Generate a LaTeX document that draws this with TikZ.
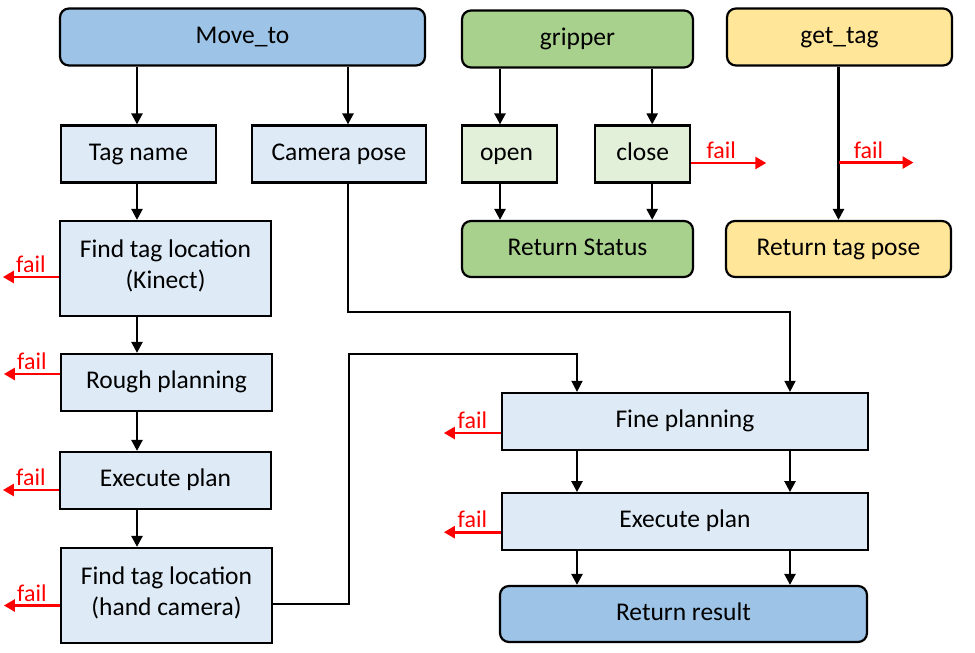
\documentclass[tikz,border=0pt]{standalone}
\usepackage{fontspec}
\setmainfont{Carlito}
\usetikzlibrary{arrows.meta,positioning}

\definecolor{headblue}{HTML}{9DC3E6}
\definecolor{paleblue}{HTML}{DEEBF7}
\definecolor{headgreen}{HTML}{A9D18E}
\definecolor{palegreen}{HTML}{E2F0D9}
\definecolor{headyellow}{HTML}{FFE699}

\begin{document}
\begin{tikzpicture}[x=1pt,y=-1pt,
        box/.style={draw, line width=2.2pt, minimum height=57pt, inner sep=0pt,
                align=center, font=\fontsize{25.5}{31}\selectfont,
                execute at begin node=\strut, execute at end node=\strut},
        stage/.style={box, fill=paleblue},
        head/.style={box, rounded corners=9pt},
        post/.style={-{Triangle[width=11pt,length=11pt]}, line width=2.4pt},
        route/.style={-{Triangle[width=11pt,length=11pt]}, line width=1.6pt},
        failarrow/.style={-{Triangle[width=12pt,length=11pt]}, line width=2.6pt, red},
        faillabel/.style={red, above, inner sep=3pt, font=\fontsize{24}{28}\selectfont}]
        \useasboundingbox (0,0) rectangle (975,653);

        % Move_to
        \node[head, fill=headblue, minimum width=365pt] (movet) at (242.5,37) {Move\_to};
        \node[stage, minimum width=155pt] (tagname) at (138.5,154) {Tag name};
        \node[stage, minimum width=174pt] (camera) at (339,154) {Camera pose};
        \node[stage, minimum width=211pt, minimum height=95pt] (kinect) at (165.5,268.5) {Find tag location\\(Kinect)};
        \node[stage, minimum width=211pt] (rough) at (166.5,382.5) {Rough planning};
        \node[stage, minimum width=211pt] (execl) at (165.5,480.5) {Execute plan};
        \node[stage, minimum width=211pt, minimum height=95pt] (hand) at (166.5,595.5) {Find tag location\\(hand camera)};
        \node[stage, minimum width=366pt] (fine) at (685,421.5) {Fine planning};
        \node[stage, minimum width=366pt] (execr) [below=41pt of fine] {Execute plan};
        \node[head, fill=headblue, minimum width=367pt, minimum height=56pt] (result) at (683.5,614) {Return result};

        % gripper
        \node[head, fill=headgreen, minimum width=231pt] (gripper) at (577.5,39) {gripper};
        \node[box, fill=palegreen, minimum width=95pt] (open) at (509.5,154) {open\hspace{6pt}};
        \node[box, fill=palegreen, minimum width=95pt] (close) [right=36pt of open] {close};
        \node[head, fill=headgreen, minimum width=231pt, minimum height=56pt] (status) at (577.5,249) {Return Status};

        % get_tag
        \node[head, fill=headyellow, minimum width=225pt] (gettag) at (839.5,37) {get\_tag};
        \node[head, fill=headyellow, minimum width=225pt, minimum height=56pt] (tagpose) at (838.5,249) {Return tag pose};

        % left column
        \coordinate (spine) at (137,0);
        \foreach \a/\b in {movet/tagname, tagname/kinect, kinect/rough, rough/execl, execl/hand}
                \draw[post] (spine |- \a.south) -- (spine |- \b.north);
        \draw[post] ([xshift=9pt]camera.north |- movet.south) -- ([xshift=9pt]camera.north);

        % routes into fine planning
        \coordinate (camturn) at (790,312);
        \coordinate (handturn) at (349,354);
        \coordinate (handdrop) at (577,354);
        \draw[route] ([xshift=9pt]camera.south) |- (camturn) -- (camturn |- fine.north);
        \draw[route] ([yshift=-8.5pt]hand.east) -| (handturn) -- (handdrop) -- (handdrop |- fine.north);
        \foreach \c in {handdrop, camturn} {
                \draw[post] (\c |- fine.south) -- (\c |- execr.north);
                \draw[post] (\c |- execr.south) -- (\c |- result.north);
        }

        % gripper arrows
        \foreach \n/\s in {open/-9.5pt, close/9.5pt} {
                \draw[post] ([xshift=\s]\n.north |- gripper.south) -- ([xshift=\s]\n.north);
                \draw[post] ([xshift=\s]\n.south) -- ([xshift=\s]\n.south |- status.north);
        }
        \draw[post] (tagpose.north |- gettag.south) -- (tagpose.north);
        \path (tagpose.north |- gettag.south) -- (tagpose.north) coordinate[pos=0.626] (tagtap);

        % fail exits
        \draw[failarrow] ([yshift=-8.5pt]kinect.west) -- ++(-56,0) node[faillabel, midway] {fail};
        \draw[failarrow] ([yshift=8.5pt]rough.west) -- ++(-56,0) node[faillabel, midway] {fail};
        \draw[failarrow] ([yshift=-9.5pt]execl.west) -- ++(-56,0) node[faillabel, midway] {fail};
        \draw[failarrow] ([yshift=-10pt]hand.west) -- ++(-56,0) node[faillabel, midway] {fail};
        \draw[failarrow] ([yshift=-11.5pt]fine.west) -- ++(-57,0) node[faillabel, midway] {fail};
        \draw[failarrow] ([yshift=-10.5pt]execr.west) -- ++(-57,0) node[faillabel, midway] {fail};
        \draw[failarrow] ([yshift=-9pt]close.east) -- ++(75,0) node[faillabel, pos=0.4] {fail};
        \draw[failarrow] (tagtap) -- ++(75,0) node[faillabel, pos=0.4] {fail};
\end{tikzpicture}
\end{document}
